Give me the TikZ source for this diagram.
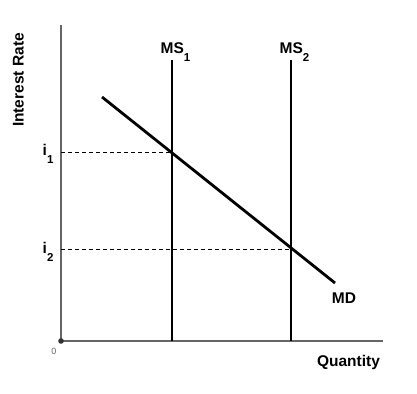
\documentclass[tikz,border=0pt]{standalone}
\usepackage{fontspec}
\setmainfont{Liberation Sans}
\newcommand{\lowsub}[1]{\raisebox{-8pt}{\fontsize{11.5}{11.5}\selectfont #1}}
\begin{document}
\begin{tikzpicture}[x=1pt,y=-1pt,
  lbl/.style={font=\bfseries\fontsize{15.5}{15.5}\selectfont, inner sep=0pt},
  axis/.style={line width=2pt, draw=black!60},
  curve/.style={line width=2.8pt, draw=black},
  guide/.style={line width=0.7pt, dash pattern=on 4pt off 3pt}]
\useasboundingbox (0,0) rectangle (417,393);
\fill[white] (0,0) rectangle (417,393);
\coordinate (O) at (61,341);
\coordinate (Ytop) at (61,25);
\coordinate (Xend) at (383,341);
\draw[axis] (Ytop) -- (O) -- (Xend);
\fill[black!80] (O) circle (2.8pt);
\node[font=\fontsize{9}{9}\selectfont, text=black!60, inner sep=0pt] (zero) at (54,351) {0};
% MS lines
\coordinate (ms1top) at (172,60);
\coordinate (ms1bot) at (172,341);
\coordinate (ms2top) at (291,60);
\coordinate (ms2bot) at (291,341);
\draw[curve] (ms1top) -- (ms1bot);
\draw[curve] (ms2top) -- (ms2bot);
% MD
\coordinate (mdA) at (102,97);
\coordinate (mdB) at (335,283);
\draw[curve] (mdA) -- (mdB);
% guides
\coordinate (e1) at (172,152);
\coordinate (e2) at (291,249);
\coordinate (y1) at (61,152);
\coordinate (y2) at (61,249);
\draw[guide] (y1) -- (e1);
\draw[guide] (y2) -- (e2);
% labels
\node[lbl, anchor=base west] (ms1) at (160.5,54) {MS\lowsub{1}};
\node[lbl, anchor=base west] (ms2) at (279.5,54) {MS\lowsub{2}};
\node[lbl, anchor=base] (md) at (344,303) {MD};
\node[lbl, anchor=base] (qty) at (348.5,366.5) {Quantity};
\node[lbl, anchor=base west] (i1) at (42.5,155.5) {i\lowsub{1}};
\node[lbl, anchor=base west] (i2) at (42.5,253.5) {i\lowsub{2}};
\node[lbl, rotate=90, anchor=base] (ir) at (23.5,80) {Interest Rate};
\end{tikzpicture}
\end{document}
